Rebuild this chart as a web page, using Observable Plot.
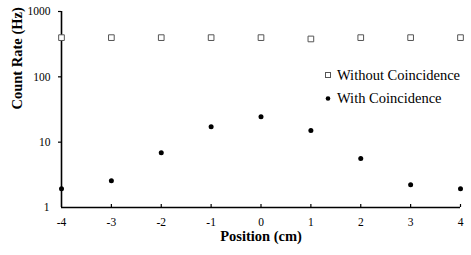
<!DOCTYPE html>
<html>
<head>
<meta charset="utf-8">
<script src="https://cdn.jsdelivr.net/npm/d3@7"></script>
<script src="https://cdn.jsdelivr.net/npm/@observablehq/plot@0.6"></script>
<style>
  html, body { margin: 0; padding: 0; background: #fff; }
  #wrap { position: relative; width: 471px; height: 255px; font-family: "Liberation Serif", "Times New Roman", serif; }
  #legend { position: absolute; left: 325px; top: 64px; font-family: "Liberation Serif", serif; font-size: 14.5px; color: #000; line-height: 23px; }
  #legend div { display: flex; align-items: center; white-space: nowrap; }
  #legend svg { margin-right: 5px; }
</style>
</head>
<body>
<div id="wrap"></div>
<script>
const positions = [-4, -3, -2, -1, 0, 1, 2, 3, 4];
const withoutCoincidence = [398, 398, 398, 398, 398, 380, 398, 398, 398];
const withCoincidence = [1.93, 2.56, 6.9, 17.2, 24.5, 15.1, 5.63, 2.23, 1.93];
const seriesNames = ["Without Coincidence", "With Coincidence"];
const xTicks = [-4, -3, -2, -1, 0, 1, 2, 3, 4];
const yTicks = [1, 10, 100, 1000];

const dataWithout = positions.map((p, i) => ({x: p, y: withoutCoincidence[i]}));
const dataWith = positions.map((p, i) => ({x: p, y: withCoincidence[i]}));

const chart = Plot.plot({
  width: 471,
  height: 255,
  marginLeft: 61,
  marginRight: 11,
  marginTop: 11,
  marginBottom: 48,
  style: {fontFamily: "'Liberation Serif', 'Times New Roman', serif", fontSize: "11.5px", color: "#000", background: "#fff"},
  x: {domain: [-4, 4]},
  y: {type: "log", domain: [1, 1000]},
  marks: [
    Plot.axisY({ticks: yTicks.slice(1), tickSize: 3, tickPadding: 8, tickFormat: d => String(d), label: null, strokeWidth: 1.2}),
    Plot.axisY({ticks: yTicks.slice(0, 1), tickSize: 0, tickPadding: 12, tickFormat: d => String(d), label: null}),
    Plot.axisX({ticks: xTicks, tickSize: 0, tickPadding: 10, tickFormat: d => String(d), label: null}),
    Plot.ruleX(xTicks.slice(1), {x: d => d, y1: 1, y2: 1, insetBottom: 3, stroke: "#000", strokeWidth: 1.2}),
    Plot.ruleX([-4], {y1: 1, y2: 1000, stroke: "#000", strokeWidth: 1.6}),
    Plot.ruleY([1], {x1: -4, x2: 4, stroke: "#000", strokeWidth: 1.6}),
    Plot.text(["Count Rate (Hz)"], {text: d => d, frameAnchor: "left", dx: -44, rotate: -90, fontWeight: "bold", fontSize: 14.5}),
    Plot.text(["Position (cm)"], {text: d => d, frameAnchor: "bottom", dy: 33, fontWeight: "bold", fontSize: 14.5}),
    Plot.dot(dataWithout, {x: "x", y: "y", symbol: "square", r: 3.2, stroke: "#555", strokeWidth: 1, fill: "#fff"}),
    Plot.dot(dataWith, {x: "x", y: "y", r: 2.5, fill: "#000", stroke: "none"})
  ]
});

const wrap = document.getElementById("wrap");
wrap.appendChild(chart);

const legend = document.createElement("div");
legend.id = "legend";
const marks = [
  '<svg width="7" height="7"><rect x="0.5" y="0.5" width="5" height="5" fill="#fff" stroke="#555" stroke-width="1"/></svg>',
  '<svg width="7" height="7"><circle cx="3" cy="3.5" r="2.3" fill="#000"/></svg>'
];
seriesNames.forEach((name, i) => {
  const row = document.createElement("div");
  row.innerHTML = marks[i] + "<span>" + name + "</span>";
  legend.appendChild(row);
});
wrap.appendChild(legend);
</script>
</body>
</html>
